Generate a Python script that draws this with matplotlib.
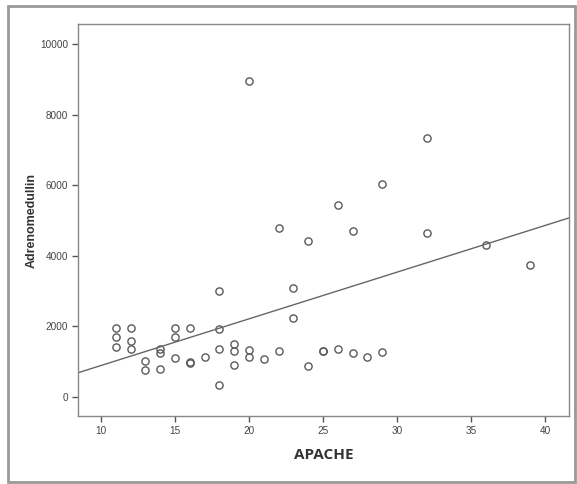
import numpy as np
import matplotlib.pyplot as plt
from matplotlib.patches import Rectangle

# APACHE score vs Adrenomedullin
apache = [20, 32, 29, 26, 22, 27, 24, 32, 36, 39, 18, 23,
          11, 11, 11, 12, 12, 12, 13, 13, 14, 14, 14,
          15, 15, 15, 16, 16, 16, 17, 18, 18, 18,
          19, 19, 19, 20, 20, 21, 22, 23, 24,
          25, 25, 26, 27, 28, 29]
adm = [8960, 7350, 6030, 5440, 4800, 4720, 4420, 4660, 4310, 3730, 3020, 3090,
       1950, 1710, 1410, 1950, 1590, 1370, 1030, 775, 1360, 1260, 785,
       1950, 1710, 1110, 1950, 970, 990, 1125, 1930, 1360, 340,
       1510, 1300, 910, 1340, 1125, 1090, 1300, 2250, 870,
       1290, 1310, 1370, 1240, 1135, 1285]

xticks = [10, 15, 20, 25, 30, 35, 40]
yticks = [0, 2000, 4000, 6000, 8000, 10000]

fig = plt.figure(figsize=(5.77, 4.84), dpi=100)
ax = fig.add_axes([0.1352, 0.1405, 0.8509, 0.8099])

ax.plot(apache, adm, 'o', mfc='none', mec='#5a5a5a', mew=1.0, ms=5.2, ls='none')

xmin, xmax = 8.45, 41.62
b, a = np.polyfit(apache, adm, 1)
xs = np.array([xmin, xmax])
ax.plot(xs, a + b * xs, color='#666666', lw=1.0)

ax.set_xlim(xmin, xmax)
ax.set_ylim(-540, 10580)
ax.set_xticks(xticks)
ax.set_yticks(yticks)
ax.tick_params(direction='out', length=4.5, width=1, color='#555555',
               labelsize=7.2, labelcolor='#444444', pad=2.5)
for lab in ax.get_xticklabels() + ax.get_yticklabels():
    lab.set_family('Liberation Sans')
ax.tick_params(top=False, right=False)
for s in ax.spines.values():
    s.set_color('#888888')
    s.set_linewidth(1.0)

ax.set_xlabel('APACHE', family='Open Sans', fontweight='bold', fontsize=11,
              color='#333333', labelpad=9)
ax.set_ylabel('Adrenomedullin', family='Liberation Sans', fontweight='bold',
              fontsize=9, color='#333333', labelpad=2)

# outer frame around the figure
fig.patches.append(Rectangle((0.013, 0.004), 0.983, 0.983, transform=fig.transFigure,
                             fill=False, edgecolor='#999999', lw=2))

fig.savefig('out.png', dpi=100)
